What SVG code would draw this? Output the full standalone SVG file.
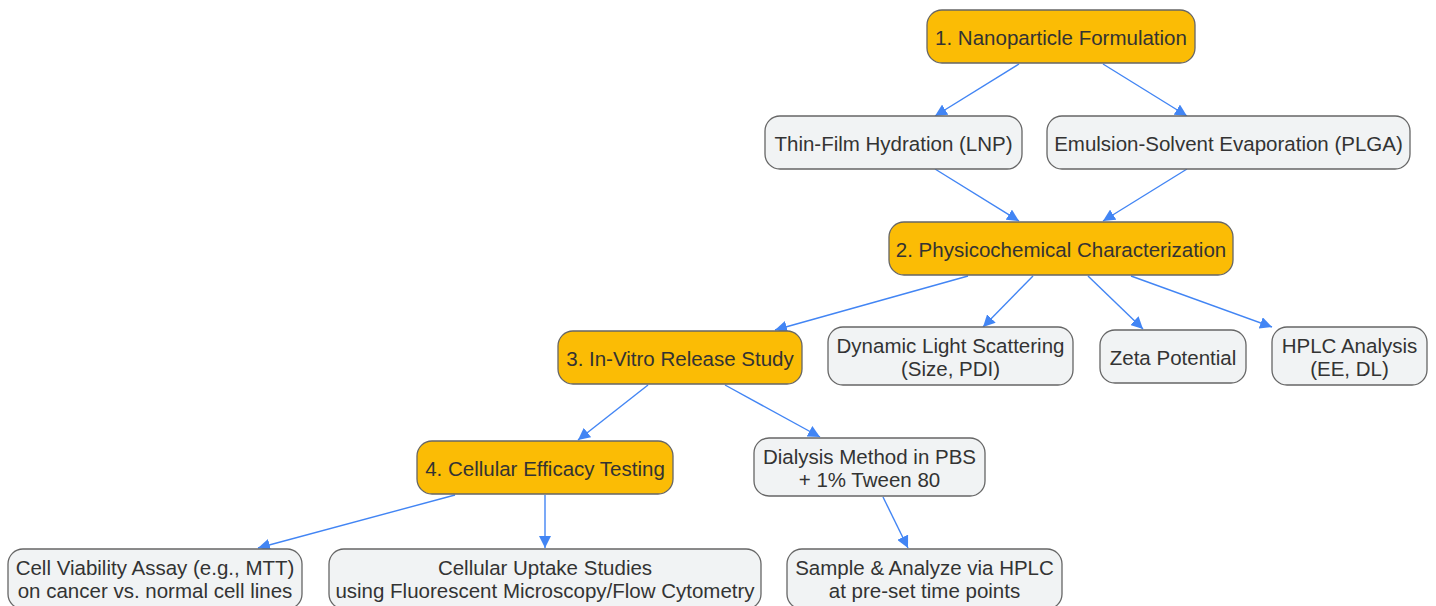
<svg xmlns="http://www.w3.org/2000/svg" width="1436" height="606" viewBox="0 0 1436 606">
<style>
.n rect{stroke:#666;stroke-width:1.3}
.p rect{fill:#FBBC05}
.s rect{fill:#F1F3F4}
text{font-family:"Liberation Sans",Arial,sans-serif;font-size:20.5px;fill:#333;text-anchor:middle}
.e line{stroke:#4285F4;stroke-width:1.4;marker-end:url(#ah)}
</style>
<defs>
<marker id="ah" viewBox="0 0 10 10" refX="10" refY="5" markerWidth="12" markerHeight="12" markerUnits="userSpaceOnUse" orient="auto">
<path d="M0,0L10,5L0,10z" fill="#4285F4"/>
</marker>
</defs>
<g class="e" id="connectors">
<line x1="1019" y1="64" x2="935" y2="116"/>
<line x1="1103" y1="64" x2="1187" y2="116"/>
<line x1="935" y1="169" x2="1019" y2="221"/>
<line x1="1187" y1="169" x2="1103" y2="221"/>
<line x1="968" y1="276" x2="775" y2="330"/>
<line x1="1033" y1="276" x2="983" y2="327"/>
<line x1="1088" y1="276" x2="1143" y2="329"/>
<line x1="1131" y1="276" x2="1272" y2="327"/>
<line x1="648" y1="385" x2="578" y2="440"/>
<line x1="725" y1="385" x2="820" y2="437"/>
<line x1="455" y1="495" x2="258" y2="548"/>
<line x1="545" y1="495" x2="545" y2="548"/>
<line x1="883" y1="497" x2="908" y2="548"/>
</g>
<g id="n1" class="n p"><rect x="927" y="10" width="268" height="53" rx="15"/><text x="1061" y="44.5">1. Nanoparticle Formulation</text></g>
<g id="thin" class="n s"><rect x="765" y="116" width="257" height="53" rx="15"/><text x="893.5" y="150.5">Thin-Film Hydration (LNP)</text></g>
<g id="emul" class="n s"><rect x="1047" y="116" width="363" height="53" rx="15"/><text x="1228.5" y="150.5">Emulsion-Solvent Evaporation (PLGA)</text></g>
<g id="n2" class="n p"><rect x="889" y="222" width="344" height="53" rx="15"/><text x="1061" y="256.5">2. Physicochemical Characterization</text></g>
<g id="n3" class="n p"><rect x="558" y="331" width="244" height="53" rx="15"/><text x="680" y="365.5">3. In-Vitro Release Study</text></g>
<g id="dls" class="n s"><rect x="828" y="327" width="245" height="58" rx="15"/><text x="950.5" y="353">Dynamic Light Scattering</text><text x="950.5" y="376">(Size, PDI)</text></g>
<g id="zeta" class="n s"><rect x="1100" y="330" width="146" height="53" rx="15"/><text x="1173" y="364.5">Zeta Potential</text></g>
<g id="hplc" class="n s"><rect x="1272" y="327" width="155" height="58" rx="15"/><text x="1349.5" y="353">HPLC Analysis</text><text x="1349.5" y="376">(EE, DL)</text></g>
<g id="n4" class="n p"><rect x="417" y="441" width="256" height="53" rx="15"/><text x="545" y="475.5">4. Cellular Efficacy Testing</text></g>
<g id="dial" class="n s"><rect x="754" y="438" width="231" height="58" rx="15"/><text x="869.5" y="464">Dialysis Method in PBS</text><text x="869.5" y="487">+ 1% Tween 80</text></g>
<g id="via" class="n s"><rect x="8" y="549" width="294" height="60" rx="15"/><text x="155" y="575">Cell Viability Assay (e.g., MTT)</text><text x="155" y="598">on cancer vs. normal cell lines</text></g>
<g id="upt" class="n s"><rect x="329" y="549" width="432" height="60" rx="15"/><text x="545" y="575">Cellular Uptake Studies</text><text x="545" y="598">using Fluorescent Microscopy/Flow Cytometry</text></g>
<g id="samp" class="n s"><rect x="787" y="549" width="275" height="60" rx="15"/><text x="924.5" y="575">Sample &amp; Analyze via HPLC</text><text x="924.5" y="598">at pre-set time points</text></g>
</svg>
